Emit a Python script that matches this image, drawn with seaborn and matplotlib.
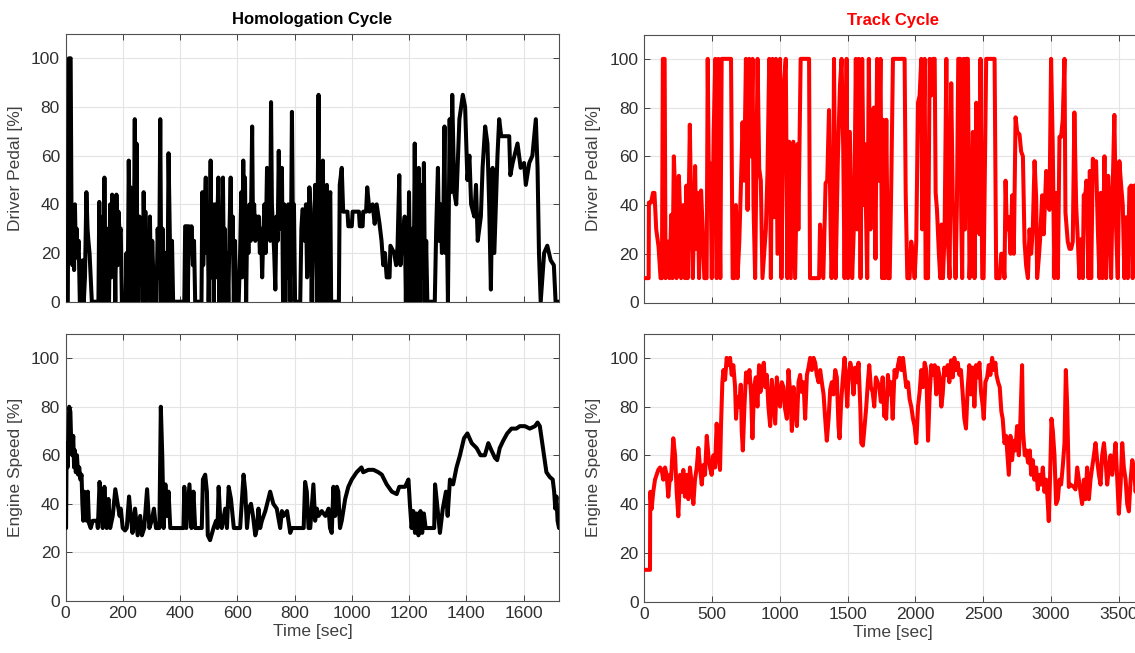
import numpy as np
import pandas as pd
import matplotlib
matplotlib.use("Agg")
import matplotlib.pyplot as plt
import seaborn as sns

# ---------------- data ----------------
hom_pedal_t = [0, 8, 12, 18, 21, 24, 27, 30, 33, 36, 39, 42, 46, 50, 56, 60, 64, 68, 73, 77, 80, 84, 88, 92, 115,
               118, 121, 124, 127, 130, 133, 136, 139, 142, 145, 149, 152, 156, 160, 163, 166, 170, 174, 178, 182,
               185, 189, 193, 197, 210,
               213, 217, 221, 224, 227, 230, 234, 238, 242, 245, 248, 251, 254, 258, 262, 266, 270, 273, 276, 279,
               283, 287, 291, 295, 299, 303, 307, 312, 318, 322, 327, 331, 335, 339, 343, 347, 351, 356, 360, 364,
               368, 372, 376,
               415, 418, 424, 427, 431, 437, 440, 445, 449, 453, 475,
               478, 481, 485, 490, 493, 497, 500, 504, 507, 510, 514, 518, 522, 526, 530, 534, 537, 541, 545, 550,
               553, 556, 560, 565, 569, 573, 577, 580, 584, 588, 592, 596, 605, 610, 614, 617, 621, 624, 627, 631,
               635, 639, 643, 647, 652, 655, 659, 663, 667, 671, 675, 679, 683, 687, 691, 695, 699, 704, 708, 712,
               715, 718, 721, 725, 729, 733, 737, 741, 745, 748, 752, 756, 760, 764, 768, 772, 775, 778, 782, 786,
               791, 794, 798, 802, 820, 824, 828, 832, 836, 840, 844, 848, 852, 856, 860, 864, 868, 872, 875, 878,
               881, 884, 887, 891, 895, 899, 902, 905, 909, 913, 916, 920, 925, 928, 955,
               958, 965, 970, 985, 988, 1000, 1003, 1025, 1028, 1038, 1040, 1050, 1054, 1062, 1073, 1080, 1087,
               1097, 1104, 1110, 1116, 1122, 1132, 1135, 1148, 1155, 1160, 1166, 1170, 1176, 1185,
               1189, 1193, 1197, 1200, 1204, 1208, 1212, 1216, 1220, 1223, 1227, 1230, 1234, 1237, 1240, 1244,
               1248, 1252, 1256, 1260, 1264, 1290, 1295, 1301, 1305, 1310, 1315, 1320, 1324, 1327, 1331, 1336,
               1342, 1346, 1351,
               1358, 1365, 1376, 1388, 1396, 1404, 1411, 1417, 1428, 1434, 1440, 1451, 1457, 1466, 1474, 1480,
               1486, 1492, 1498, 1509, 1515, 1522, 1550, 1554, 1562, 1579, 1590, 1602, 1608, 1620, 1631, 1643,
               1649, 1654, 1660, 1672, 1683, 1695, 1706, 1712, 1725]
hom_pedal_v = [0, 0, 100, 100, 35, 15, 38, 13, 40, 20, 30, 18, 25, 0, 0, 17, 0, 10, 45, 30, 25, 20, 10, 0, 0,
               41, 0, 30, 20, 35, 0, 51, 10, 30, 0, 30, 0, 40, 10, 44, 20, 30, 0, 44, 15,
               37, 28, 30, 0, 0,
               20, 0, 58, 30, 47, 0, 35, 10, 75, 0, 65, 20, 0, 35, 10, 33, 0, 45, 20, 37,
               0, 27, 15, 35, 0, 25, 10, 0, 0, 30, 10, 75, 0, 30, 10, 0, 20, 0, 61, 30,
               0, 25, 0,
               0, 31, 31, 0, 31, 20, 31, 15, 25, 0, 0,
               45, 15, 30, 51, 20, 35, 0, 25, 58, 10, 40, 0, 40, 10, 30, 51, 0, 20, 0, 51,
               15, 30, 0, 20, 0, 30, 51, 20, 35, 0, 25, 0, 0, 20, 45, 10, 58, 30, 51, 0,
               35, 20, 40, 25, 72, 30, 40, 25, 35, 30, 35, 20, 30, 10, 28, 40, 20, 55, 30, 40,
               25, 82, 40, 30, 20, 5, 35, 25, 62, 35, 30, 55, 0, 40, 0, 30, 10, 40, 20, 0,
               78, 35, 40, 0, 0, 30, 38, 37, 25, 40, 10, 30, 47, 38, 0, 30, 20, 48, 30, 0,
               40, 85, 0, 30, 0, 58, 20, 0, 45, 48, 0, 40, 45, 0, 0,
               48, 55, 37, 37, 31, 31, 37, 37, 31, 31, 37, 37, 47, 37, 40, 32, 40,
               32, 25, 15, 20, 10, 10, 23, 20, 15, 23, 52, 15, 25, 35,
               0, 30, 0, 45, 10, 0, 30, 0, 65, 20, 40, 0, 55, 20, 0, 48,
               10, 57, 0, 25, 0, 0, 30, 55, 25, 40, 20, 35, 72, 20, 40, 0,
               75, 45, 85,
               45, 40, 75, 85, 80, 50, 60, 40, 35, 48, 25, 35, 55, 72, 65, 40,
               5, 55, 20, 60, 75, 68, 68, 52, 57, 65, 55, 57, 48, 57, 60, 75,
               55, 20, 0, 20, 23, 17, 15, 0, 0]

hom_speed_t = [0, 2, 4, 7, 10, 13, 17, 20, 24, 27, 30, 33, 36, 40, 44, 48, 52, 56, 59, 62, 66, 70, 74, 78, 82, 88,
               95, 110, 113, 119, 126, 130, 136, 141, 144, 150, 156, 165, 174, 182, 189, 193, 200, 208, 214, 222,
               228, 234, 243, 252, 261, 267, 275, 285, 293, 301, 309, 316, 328, 333, 338, 343, 349, 354, 360, 366,
               412, 415, 422, 433, 440, 447, 453, 476, 480, 488, 494, 497, 505, 517, 526, 531, 535, 540, 546, 558,
               564, 570, 578, 584, 588, 610, 622, 628, 634, 640, 648, 655, 663, 669, 674, 680, 686, 698, 715, 726,
               738, 750, 756, 762, 774, 785, 791, 832, 837, 843, 849, 855, 866, 872, 878, 884, 895, 908, 919, 924,
               930, 936, 942, 948, 953, 959, 965, 977, 988, 1000, 1017, 1034, 1040, 1058, 1076, 1093, 1105, 1122,
               1140, 1157, 1166, 1186, 1198, 1203, 1209, 1215, 1221, 1227, 1233, 1240, 1246, 1252, 1258, 1288,
               1291, 1298, 1308, 1318, 1329, 1335, 1343, 1354, 1366, 1378, 1392, 1404, 1419, 1436, 1450, 1465,
               1477, 1488, 1500, 1508, 1517, 1529, 1543, 1558, 1575, 1587, 1605, 1622, 1640, 1649, 1657, 1669,
               1680, 1692, 1702, 1707, 1711, 1715, 1719, 1724]
hom_speed_v = [30, 30, 65, 55, 66, 80, 78, 65, 60, 68, 55, 62, 53, 60, 52, 55, 50, 52, 40, 33, 45, 40, 33, 45, 32, 30,
               33, 33, 30, 49, 35, 30, 47, 35, 30, 42, 30, 35, 46, 40, 35, 38, 30, 29, 30, 43,
               35, 28, 38, 27, 35, 27, 30, 46, 30, 33, 38, 30, 30, 80, 60, 30, 48, 35, 45, 30,
               30, 47, 30, 48, 30, 45, 30, 30, 50, 52, 45, 27, 25, 30, 33, 30, 47, 35, 30, 38,
               30, 47, 42, 35, 30, 30, 52, 45, 30, 38, 40, 35, 27, 30, 38, 30, 33, 37, 45, 40,
               38, 30, 37, 35, 37, 28, 30, 30, 49, 45, 30, 30, 48, 33, 38, 35, 37, 35, 38, 30,
               28, 47, 35, 47, 45, 30, 33, 42, 47, 50, 53, 55, 53, 54, 54, 53, 52, 48,
               45, 44, 47, 47, 50, 40, 30, 37, 28, 36, 27, 37, 28, 36, 30, 30,
               48, 40, 28, 38, 45, 35, 50, 48, 55, 60, 67, 69, 65, 63, 60, 60,
               65, 62, 59, 58, 63, 66, 69, 71, 71, 72, 72, 71, 72, 73.5, 72, 62,
               53, 51, 50, 45, 38, 43, 33, 30]

track_pedal_t = [0, 32, 34, 50, 64, 75, 88, 105, 120, 130, 137, 150, 157, 174, 186, 199, 208, 218, 228, 238, 255, 265,
                 272, 289, 300, 311, 320, 336, 345, 358, 375, 384, 394, 404, 419, 431, 443, 460, 468, 478, 488, 498,
                 512, 524, 534, 547, 553, 561, 571, 640, 652, 664, 676, 688, 701, 713, 725, 737, 750, 762, 774, 787,
                 799, 806, 818, 836, 848, 860, 872, 897, 909, 922, 934, 946, 958, 971, 983, 1002, 1012, 1027, 1044,
                 1056, 1069, 1081, 1100, 1113, 1130, 1137, 1154, 1216, 1223, 1290, 1297, 1306, 1321, 1338, 1350,
                 1363, 1375, 1382, 1394, 1400, 1412, 1429, 1444, 1456, 1468, 1478, 1493, 1503, 1517, 1534, 1549,
                 1561, 1571, 1583, 1596, 1608, 1620, 1627, 1645, 1657, 1669, 1681, 1694, 1706, 1718, 1730, 1743,
                 1755, 1762, 1774, 1786, 1798, 1811, 1823, 1835, 1921, 1929, 1941, 1958, 1970, 1982, 1995, 2007,
                 2020, 2032, 2044, 2051, 2069, 2076, 2094, 2106, 2118, 2130, 2143, 2150, 2160, 2174, 2184, 2194,
                 2204, 2216, 2229, 2241, 2253, 2265, 2277, 2285, 2297, 2307, 2317, 2332, 2339, 2346, 2356, 2366,
                 2376, 2388, 2400, 2413, 2425, 2437, 2450, 2462, 2474, 2481, 2494, 2504, 2523, 2585, 2597, 2622,
                 2634, 2646, 2658, 2666, 2676, 2690, 2703, 2715, 2727, 2740, 2752, 2769, 2781, 2794, 2806, 2818,
                 2831, 2843, 2855, 2867, 2880, 2892, 2899, 2911, 2921, 2936, 2948, 2966, 2978, 2990, 3002, 3014,
                 3027, 3039, 3052, 3064, 3076, 3088, 3101, 3108, 3125, 3138, 3150, 3162, 3174, 3187, 3199, 3211,
                 3224, 3236, 3243, 3256, 3263, 3278, 3288, 3298, 3310, 3322, 3334, 3347, 3359, 3369, 3381, 3396,
                 3408, 3423, 3433, 3445, 3457, 3469, 3482, 3494, 3506, 3519, 3531, 3543, 3555, 3568, 3580, 3592,
                 3604, 3616, 3640, 3655, 3670]
track_pedal_v = [10, 10, 41, 41, 45, 45, 30, 23, 10, 10, 100, 100, 10, 25, 10, 36, 10, 60, 45, 10, 52, 36,
                 10, 40, 10, 48, 10, 73, 40, 10, 56, 22, 45, 10, 46, 30, 10, 10, 100, 40, 57, 10,
                 70, 100, 10, 100, 50, 10, 100, 100, 10, 10, 40, 10, 25, 48, 74, 50, 100, 38, 100, 60,
                 100, 40, 10, 100, 55, 50, 10, 30, 53, 100, 10, 100, 35, 100, 20, 100, 10, 87, 100,
                 10, 66, 10, 66, 10, 65, 30, 100, 100, 10, 10, 32, 24, 10, 49, 50,
                 79, 30, 10, 34, 100, 10, 60, 89, 100, 63, 10, 100, 10, 70, 10, 35,
                 100, 30, 100, 10, 100, 40, 65, 10, 100, 30, 78, 80, 18, 100, 50, 100,
                 10, 75, 10, 75, 10, 10, 50, 100, 100, 45, 10, 10, 25, 20, 10, 25,
                 82, 85, 100, 30, 100, 10, 10, 100, 85, 100, 100, 45, 38, 20, 10, 32,
                 10, 28, 100, 25, 10, 90, 40, 40, 10, 40, 100, 100, 35, 10, 100, 30,
                 100, 100, 10, 35, 70, 10, 82, 35, 28, 100, 10, 10, 100, 100, 10, 10,
                 20, 20, 10, 50, 30, 35, 20, 44, 20, 76, 70, 69, 62, 60, 25, 15,
                 10, 30, 20, 30, 58, 43, 10, 18, 26, 44, 28, 54, 40, 38, 100, 65,
                 10, 45, 10, 68, 68, 75, 100, 37, 25, 22, 22, 25, 78, 40, 26, 10,
                 26, 10, 44, 45, 50, 10, 54, 10, 59, 56, 58, 30, 10, 45, 10, 60,
                 10, 52, 40, 10, 48, 77, 30, 10, 58, 48, 40, 10, 35, 10, 47, 48,
                 10, 48, 48, 10, 10]

track_speed_t = [0, 42, 44, 54, 66, 79, 91, 103, 116, 128, 140, 153, 165, 177, 190, 197, 207, 214, 227, 239, 251, 264,
                 276, 288, 300, 313, 325, 337, 350, 362, 374, 387, 399, 411, 424, 436, 448, 461, 473, 485, 497, 510,
                 522, 534, 547, 559, 566, 576, 584, 596, 608, 621, 633, 645, 657, 670, 677, 687, 700, 712, 719, 727,
                 739, 751, 764, 776, 788, 798, 810, 823, 835, 847, 857, 869, 882, 892, 904, 916, 929, 941, 956, 966,
                 978, 990, 1002, 1015, 1027, 1039, 1052, 1064, 1076, 1089, 1101, 1113, 1126, 1138, 1150, 1162, 1175,
                 1187, 1200, 1212, 1224, 1236, 1249, 1261, 1273, 1286, 1298, 1310, 1323, 1335, 1347, 1360, 1372,
                 1384, 1396, 1409, 1421, 1433, 1441, 1453, 1463, 1478, 1488, 1498, 1507, 1520, 1532, 1544, 1557,
                 1569, 1581, 1594, 1601, 1613, 1626, 1638, 1650, 1660, 1672, 1685, 1697, 1709, 1722, 1734, 1746,
                 1759, 1771, 1778, 1785, 1798, 1810, 1822, 1833, 1847, 1859, 1872, 1884, 1897, 1909, 1921, 1933,
                 1946, 1958, 1970, 1983, 1995, 2007, 2020, 2032, 2044, 2057, 2069, 2081, 2094, 2106, 2118, 2131,
                 2143, 2155, 2167, 2180, 2192, 2202, 2214, 2227, 2239, 2251, 2264, 2276, 2288, 2300, 2313, 2325,
                 2337, 2350, 2362, 2374, 2387, 2399, 2411, 2424, 2436, 2448, 2461, 2473, 2485, 2498, 2505, 2517,
                 2530, 2542, 2554, 2567, 2579, 2591, 2599, 2611, 2623, 2635, 2645, 2658, 2670, 2680, 2690, 2702,
                 2714, 2727, 2739, 2751, 2764, 2776, 2788, 2795, 2808, 2820, 2832, 2845, 2855, 2867, 2879, 2892,
                 2904, 2916, 2929, 2941, 2953, 2966, 2978, 2985, 2995, 3005, 3015, 3027, 3039, 3052, 3064, 3076,
                 3089, 3101, 3111, 3121, 3133, 3145, 3170, 3182, 3195, 3207, 3219, 3231, 3244, 3256, 3268, 3281,
                 3293, 3305, 3318, 3330, 3342, 3355, 3367, 3379, 3392, 3404, 3416, 3429, 3441, 3453, 3466, 3478,
                 3490, 3502, 3515, 3527, 3539, 3552, 3564, 3576, 3589, 3601, 3613, 3626, 3640, 3655, 3670]
track_speed_v = [13, 13, 45, 38, 45, 50, 52, 54, 55, 54, 50, 55, 52, 43, 52, 50, 60, 67, 60, 45, 35, 52,
                 45, 54, 43, 52, 42, 55, 48, 40, 50, 55, 63, 55, 48, 56, 52, 68, 60, 55, 52, 60,
                 55, 73, 60, 54, 72, 90, 95, 91, 100, 97, 100, 93, 97, 88, 75, 84, 80, 89, 70, 62,
                 80, 94, 90, 95, 85, 67, 88, 92, 80, 97, 86, 95, 98, 88, 93, 80, 72, 91, 80, 73,
                 92, 85, 80, 90, 88, 79, 75, 95, 86, 70, 88, 80, 72, 90, 93, 86, 90,
                 75, 93, 96, 100, 95, 100, 98, 93, 90, 95, 90, 85, 75, 66, 75, 87,
                 90, 85, 95, 92, 72, 67, 82, 90, 100, 90, 80, 92, 98, 95, 85, 96,
                 90, 98, 80, 65, 64, 72, 80, 90, 97, 88, 86, 80, 92, 90, 88, 82,
                 92, 76, 80, 75, 93, 85, 90, 75, 95, 92, 97, 100, 95, 100, 94, 88,
                 90, 83, 80, 75, 72, 65, 80, 86, 95, 88, 98, 95, 66, 85, 97, 93,
                 97, 85, 96, 92, 80, 85, 96, 93, 97, 90, 99, 92, 100, 95, 98, 93,
                 95, 85, 75, 71, 88, 97, 85, 96, 80, 97, 92, 98, 86, 80, 75, 90,
                 92, 97, 93, 100, 95, 98, 93, 90, 88, 78, 75, 65, 68, 60, 52, 68,
                 58, 66, 62, 72, 60, 75, 97, 70, 60, 62, 57, 62, 52, 58, 50, 55,
                 46, 52, 48, 55, 45, 50, 40, 33, 52, 75, 70, 60, 40, 42, 50, 48,
                 56, 65, 95, 80, 47, 48, 47, 46, 55, 50, 45, 40, 50, 42, 55, 42,
                 50, 55, 60, 65, 58, 52, 48, 60, 65, 58, 48, 55, 60, 52, 58, 65,
                 50, 36, 48, 65, 55, 50, 40, 37, 50, 58, 55, 45, 55, 50, 58]

y_ticks = [0, 20, 40, 60, 80, 100]
hom_x_ticks = [0, 200, 400, 600, 800, 1000, 1200, 1400, 1600]
track_x_ticks = [0, 500, 1000, 1500, 2000, 2500, 3000, 3500]

# ---------------- style ----------------
sns.set_style("ticks")
plt.rcParams['font.family'] = ['Liberation Sans', 'DejaVu Sans']
plt.rcParams.update({
    'xtick.direction': 'in', 'ytick.direction': 'in',
    'xtick.top': True, 'ytick.right': True,
    'xtick.major.size': 4, 'ytick.major.size': 4,
    'xtick.major.width': 0.7, 'ytick.major.width': 0.7,
    'xtick.color': '#404040', 'ytick.color': '#404040',
    'xtick.labelcolor': '#303030', 'ytick.labelcolor': '#303030',
    'axes.edgecolor': '#505050', 'axes.linewidth': 0.8,
})

W, H = 1135, 653
fig = plt.figure(figsize=(W / 100, H / 100), dpi=100)


def pos(x0, x1, ytop, ybot):
    return [x0 / W, (H - ybot) / H, (x1 - x0) / W, (ybot - ytop) / H]


ax_lt = fig.add_axes(pos(65.5, 559.3, 34, 301.7))
ax_lb = fig.add_axes(pos(65.5, 559.3, 334, 600.8))
ax_rt = fig.add_axes(pos(644.3, 1141.6, 34.5, 302.5))
ax_rb = fig.add_axes(pos(644.3, 1141.6, 333.5, 601.5))

panels = [
    (ax_lt, hom_pedal_t, hom_pedal_v, 'black', 'Driver Pedal [%]', (0, 1725), hom_x_ticks, False),
    (ax_lb, hom_speed_t, hom_speed_v, 'black', 'Engine Speed [%]', (0, 1725), hom_x_ticks, True),
    (ax_rt, track_pedal_t, track_pedal_v, 'red', 'Driver Pedal [%]', (0, 3670), track_x_ticks, False),
    (ax_rb, track_speed_t, track_speed_v, 'red', 'Engine Speed [%]', (0, 3670), track_x_ticks, True),
]

for ax, t, v, col, ylab, xl, xt, bottom in panels:
    df = pd.DataFrame({'t': t, 'v': v})
    sns.lineplot(data=df, x='t', y='v', ax=ax, color=col, linewidth=2.9,
                 estimator=None, sort=False, legend=False, zorder=3)
    ax.set_xlim(*xl)
    ax.set_ylim(0, 110)
    ax.set_yticks(y_ticks)
    ax.set_xticks(xt)
    ax.grid(True, color='#e4e4e4', linewidth=0.8, zorder=0)
    ax.set_axisbelow(True)
    ax.tick_params(axis='both', labelsize=12.5, pad=4)
    ax.set_ylabel(ylab, fontsize=12.5, color='#404040', labelpad=6)
    if bottom:
        ax.set_xlabel('Time [sec]', fontsize=12.5, color='#404040', labelpad=2)
    else:
        ax.set_xlabel('')
        ax.tick_params(axis='x', labelbottom=False)
    for s in ax.spines.values():
        s.set_visible(True)

ax_lt.set_title('Homologation Cycle', fontsize=12, fontweight='bold', color='black', pad=7)
ax_rt.set_title('Track Cycle', fontsize=12, fontweight='bold', color='red', pad=7)

fig.savefig('out.png', dpi=100)
